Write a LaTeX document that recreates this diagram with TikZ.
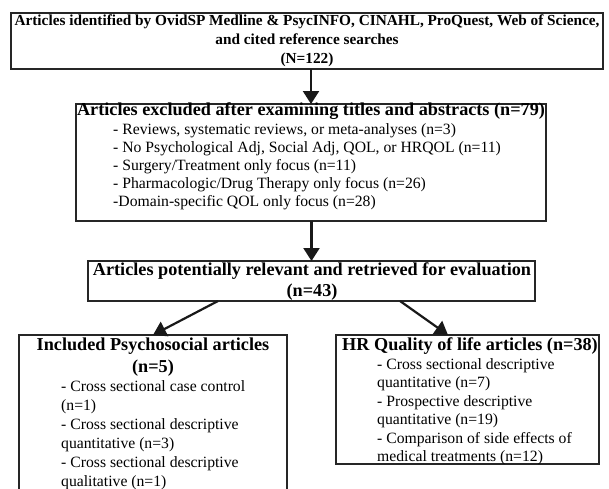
\documentclass[tikz,border=0pt]{standalone}
\usepackage{fontspec}
\setmainfont{Liberation Serif}
\usetikzlibrary{arrows.meta,calc}
\begin{document}
\begin{tikzpicture}[x=1pt,y=-1pt,
  box/.style={draw=black!85, line width=1.2pt, inner sep=0pt, outer sep=0pt, anchor=north west},
  ttl/.style={font=\fontsize{18.2}{20}\selectfont\bfseries, inner sep=0pt, anchor=base},
  ttlone/.style={font=\fontsize{15.3}{18}\selectfont\bfseries, inner sep=0pt, anchor=base},
  itm/.style={font=\fontsize{15.7}{18}\selectfont, inner sep=0pt, anchor=base west},
  arr/.style={line width=2.2pt, -{Triangle[width=16pt,length=13pt]}, black!90}]
\useasboundingbox (0,0) rectangle (609,488);
\clip (0,0) rectangle (609,488);
% boxes
\node[box, minimum width=592pt, minimum height=56pt] (b1) at (11,13) {};
\node[box, minimum width=470pt, minimum height=117pt] (b2) at (76,104) {};
\node[box, minimum width=447pt, minimum height=40pt] (b3) at (88,261) {};
\node[box, minimum width=268pt, minimum height=165pt] (b4) at (19,335) {};
\node[box, minimum width=263pt, minimum height=129pt] (b5) at (336,335) {};
% box 1 text
\node[ttlone] (t1a) at (307,25) {Articles identified by OvidSP Medline \& PsycINFO, CINAHL, ProQuest, Web of Science,};
\node[ttlone] (t1b) at (307,44) {and cited reference searches};
\node[ttlone] (t1c) at (307,63) {(N=122)};
% box 2 text
\node[ttl] (t2) at (311,115) {Articles excluded after examining titles and abstracts (n=79)};
\node[itm] (t2a) at (113,134) {- Reviews, systematic reviews, or meta-analyses (n=3)};
\node[itm] (t2b) at (113,152) {- No Psychological Adj, Social Adj, QOL, or HRQOL (n=11)};
\node[itm] (t2c) at (113,170) {- Surgery/Treatment only focus (n=11)};
\node[itm] (t2d) at (113,188) {- Pharmacologic/Drug Therapy only focus (n=26)};
\node[itm] (t2e) at (113,206) {-Domain-specific QOL only focus (n=28)};
% box 3 text
\node[ttl] (t3a) at (312,275) {Articles potentially relevant and retrieved for evaluation};
\node[ttl] (t3b) at (312,296) {(n=43)};
% box 4 text
\node[ttl] (t4a) at (153,350) {Included Psychosocial articles};
\node[ttl] (t4b) at (153,372) {(n=5)};
\node[itm] (t4c) at (61,391) {- Cross sectional case control};
\node[itm] (t4d) at (61,410) {(n=1)};
\node[itm] (t4e) at (61,429) {- Cross sectional descriptive};
\node[itm] (t4f) at (61,448) {quantitative (n=3)};
\node[itm] (t4g) at (61,467) {- Cross sectional descriptive};
\node[itm] (t4h) at (61,486) {qualitative (n=1)};
% box 5 text
\node[ttl] (t5a) at (470,350) {HR Quality of life articles (n=38)};
\node[itm] (t5b) at (377,369) {- Cross sectional descriptive};
\node[itm] (t5c) at (377,387.5) {quantitative (n=7)};
\node[itm] (t5d) at (377,406) {- Prospective descriptive};
\node[itm] (t5e) at (377,424.5) {quantitative (n=19)};
\node[itm] (t5f) at (377,443) {- Comparison of side effects of};
\node[itm] (t5g) at (377,461) {medical treatments (n=12)};
% arrows
\draw[arr] (b2.north |- b1.south) -- (b2.north);
\draw[arr] (b3.north |- b2.south) -- (b3.north);
\draw[arr] ($(b3.south west)+(130,0)$) -- (b4.north);
\draw[arr] ($(b3.south west)+(312,0)$) -- ($(b5.north west)+(112,0)$);
\end{tikzpicture}
\end{document}
